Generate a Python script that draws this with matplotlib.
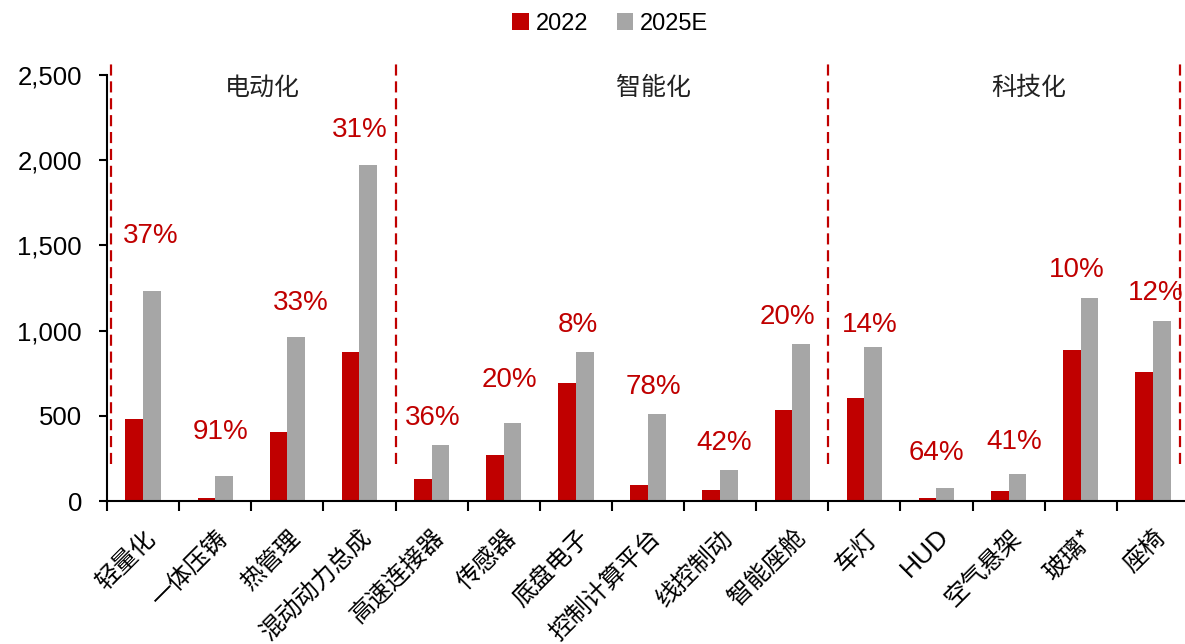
import numpy as np
import matplotlib
matplotlib.use('Agg')
import matplotlib.pyplot as plt

plt.rcParams['font.family'] = ['Liberation Sans', 'Noto Sans CJK SC', 'DejaVu Sans']

# market size by component, 2022 vs 2025E
categories = ['轻量化', '一体压铸', '热管理', '混动动力总成', '高速连接器',
              '传感器', '底盘电子', '控制计算平台', '线控制动', '智能座舱',
              '车灯', 'HUD', '空气悬架', '玻璃*', '座椅']
v2022 = [480, 20, 405, 873, 130, 268, 690, 92, 63, 532, 602, 20, 57, 887, 758]
v2025 = [1230, 145, 960, 1970, 326, 457, 873, 508, 180, 924, 903, 76, 158, 1194, 1055]
cagr = ['37%', '91%', '33%', '31%', '36%', '20%', '8%', '78%', '42%', '20%',
        '14%', '64%', '41%', '10%', '12%']
groups = ['电动化', '智能化', '科技化']

# where the growth labels sit (y in data units)
label_y = [1555, 405, 1162, 2177, 487, 710, 1033, 669, 340, 1080, 1033, 282, 346, 1356, 1221]
label_dx = [0.11, 0.08, 0.19, 0.0, 0.02, 0.08, 0.03, 0.08, 0.06, -0.07, 0.07, 0.0, 0.08, -0.05, 0.04]

RED = '#C00000'
GREY = '#A6A6A6'

fig = plt.figure(figsize=(11.85, 6.44), dpi=100)
ax = fig.add_axes([0.0903, 0.222, 0.913, 0.6615])

x = np.arange(len(categories))
w = 0.245
ax.bar(x - w / 2, v2022, w, color=RED, label='2022')
ax.bar(x + w / 2, v2025, w, color=GREY, label='2025E')

ax.set_xlim(-0.5, 14.5)
ax.set_ylim(0, 2500)
ax.set_yticks(np.arange(0, 2501, 500))
ax.set_yticklabels([f'{v:,}' for v in range(0, 2501, 500)], fontsize=18.5)
ax.tick_params(axis='y', length=6, width=1.5, pad=12)

# ticks on category boundaries, labels at centres
ax.set_xticks(np.arange(-0.5, 14.5, 1.0))
ax.set_xticklabels([])
ax.tick_params(axis='x', length=7, width=1.5)
ax.set_xticks(x, minor=True)
ax.set_xticklabels(categories, minor=True, rotation=45, ha='right',
                   rotation_mode='anchor', fontsize=17.5,
                   family=['Noto Sans CJK SC', 'DejaVu Sans'])
ax.tick_params(axis='x', which='minor', length=0, pad=17)
for lab in ax.get_xticklabels(minor=True):
    if lab.get_text() == 'HUD':
        lab.set_family(['Liberation Sans'])
        lab.set_fontsize(19)

for s in ['top', 'right']:
    ax.spines[s].set_visible(False)
ax.spines['left'].set_linewidth(1.5)
ax.spines['bottom'].set_linewidth(1.5)

# group separators
for xs in [-0.445, 3.5, 9.5, 14.37]:
    ax.plot([xs, xs], [220, 2590], color=RED, lw=1.6, ls=(0, (5, 2.6)), clip_on=False)

for gx, g in zip([1.65, 7.07, 12.28], groups):
    ax.text(gx, 2424, g, ha='center', va='center', fontsize=18, color='#222222',
            family=['Noto Sans CJK SC'])

for i, (t, y) in enumerate(zip(cagr, label_y)):
    ax.text(i + label_dx[i], y, t, ha='center', va='center', fontsize=20, color=RED)

leg = fig.legend(loc='center', bbox_to_anchor=(0.515, 0.963), ncol=2, frameon=False,
                 fontsize=17, handlelength=0.7, handleheight=0.7, handletextpad=0.3,
                 columnspacing=1.2)

fig.savefig('out.png', dpi=100)
